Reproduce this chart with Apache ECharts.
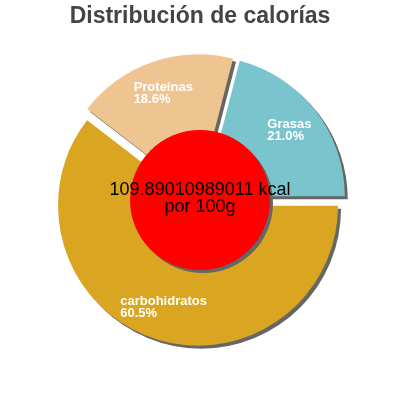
<!DOCTYPE html>
<html>
<head>
<meta charset="utf-8">
<script src="https://cdn.jsdelivr.net/npm/echarts@6/dist/echarts.min.js"></script>
<style>
html,body{margin:0;padding:0;background:#fff;}
#chart{width:400px;height:400px;}
</style>
</head>
<body>
<div id="chart"></div>
<script>
// Data
const titleText = 'Distribución de calorías';
const categories = ['carbohidratos', 'Proteínas', 'Grasas'];
const percents = [60.5, 18.6, 21.0];
const energyKcal = '109.89010989011';
const energyUnit = 'kcal';
const energyBasis = 'por 100g';

// Styles
const sliceColors = ['#DAA520', '#EEC591', '#7AC5CD'];
const FONT = '"Liberation Sans", Arial, Helvetica, sans-serif';
const CENTER = [200, 200];
const R = 140;
const OFFSET = 6;

const chart = echarts.init(document.getElementById('chart'), null, {renderer: 'canvas'});

const mainData = categories.map((c, i) => ({
  name: c,
  value: percents[i],
  selected: true,
  itemStyle: {color: sliceColors[i]},
  select: {itemStyle: {color: sliceColors[i]}}
}));
const labelData = categories.map((c, i) => ({
  name: c,
  value: percents[i],
  selected: true
}));

chart.setOption({
  animation: false,
  title: {
    text: titleText,
    left: 'center',
    top: 5,
    padding: 0,
    textStyle: {fontFamily: FONT, fontSize: 23, fontWeight: 'bold', color: '#444444'}
  },
  series: [
    {
      type: 'pie',
      center: CENTER,
      radius: [0, R],
      startAngle: 0,
      clockwise: true,
      selectedMode: 'multiple',
      selectedOffset: OFFSET,
      silent: true,
      emphasis: {disabled: true},
      label: {show: false},
      labelLine: {show: false},
      itemStyle: {
        borderWidth: 0,
        shadowColor: '#666666',
        shadowBlur: 0,
        shadowOffsetX: 3,
        shadowOffsetY: 3
      },
      select: {itemStyle: {borderWidth: 0}},
      data: mainData
    },
    {
      type: 'pie',
      center: CENTER,
      radius: [68, R],
      startAngle: 0,
      clockwise: true,
      selectedMode: 'multiple',
      selectedOffset: OFFSET,
      silent: true,
      emphasis: {disabled: true},
      avoidLabelOverlap: false,
      itemStyle: {color: 'rgba(0,0,0,0)', borderWidth: 0},
      select: {itemStyle: {color: 'rgba(0,0,0,0)', borderWidth: 0}},
      labelLine: {show: false},
      label: {
        show: true,
        position: 'inside',
        align: 'center',
        offset: [0, 2],
        formatter: p => '{n|' + p.name + '}\n{v|' + p.value.toFixed(1) + '%}',
        rich: {
          n: {fontFamily: FONT, fontSize: 13, fontWeight: 'bold', color: '#ffffff', align: 'left', lineHeight: 12},
          v: {fontFamily: FONT, fontSize: 13, fontWeight: 'bold', color: '#ffffff', align: 'left', lineHeight: 12}
        }
      },
      data: labelData
    },
    {
      type: 'pie',
      center: CENTER,
      radius: [0, 70],
      silent: true,
      emphasis: {disabled: true},
      labelLine: {show: false},
      itemStyle: {
        color: '#ff0000',
        shadowColor: '#666666',
        shadowBlur: 0,
        shadowOffsetX: 3,
        shadowOffsetY: 3
      },
      label: {
        show: true,
        position: 'center',
        formatter: energyKcal + ' ' + energyUnit + '\n' + energyBasis,
        fontFamily: FONT,
        fontSize: 18,
        lineHeight: 17,
        color: '#000000',
        offset: [0, -1]
      },
      data: [{name: 'energy', value: 1}]
    }
  ]
});
</script>
</body>
</html>
